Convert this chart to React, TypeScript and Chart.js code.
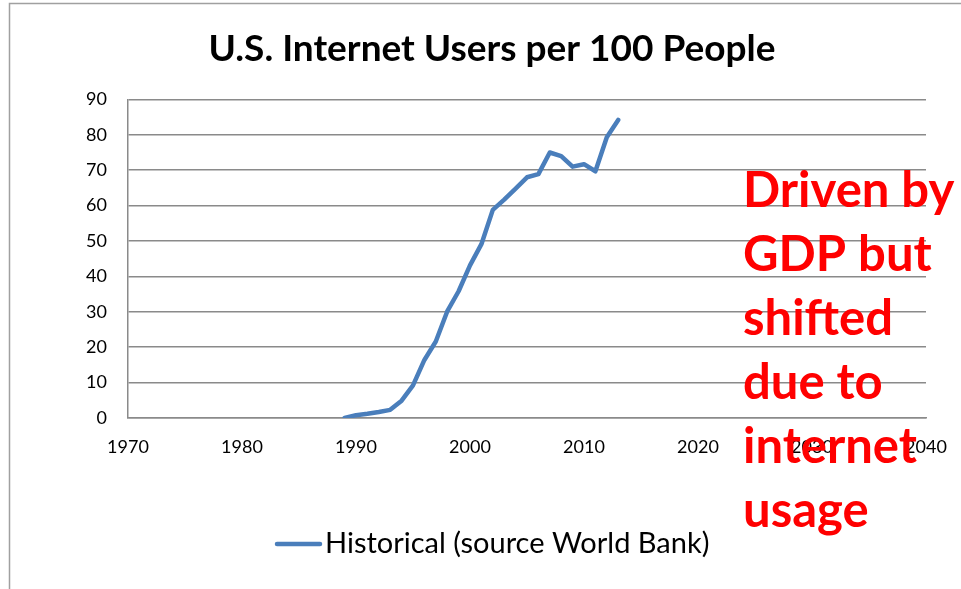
import React, { useEffect, useRef } from "react";
import { Chart, registerables } from "chart.js";

Chart.register(...registerables);

const years = [1989, 1990, 1991, 1992, 1993, 1994, 1995, 1996, 1997, 1998, 1999, 2000, 2001, 2002, 2003, 2004, 2005, 2006, 2007, 2008, 2009, 2010, 2011, 2012, 2013];
const usersPer100 = [0, 0.8, 1.2, 1.7, 2.3, 4.9, 9.2, 16.4, 21.6, 30.1, 35.8, 43.1, 49.1, 58.8, 61.7, 64.8, 68.0, 68.9, 75.0, 74.0, 71.0, 71.7, 69.7, 79.3, 84.2];
const xTicks = [1970, 1980, 1990, 2000, 2010, 2020, 2030, 2040];
const yTicks = [0, 10, 20, 30, 40, 50, 60, 70, 80, 90];
const titleText = "U.S. Internet Users per 100 People";
const seriesLabel = "Historical (source World Bank)";
const noteLines = ["Driven by", "GDP but", "shifted", "due to", "internet", "usage"];

const FONT = "Lato, 'Noto Sans', sans-serif";
const LINE_COLOR = "#4a7ebb";

const framePlugin = {
  id: "frame",
  beforeDraw(chart: any) {
    const ctx = chart.ctx;
    ctx.save();
    ctx.fillStyle = "#ffffff";
    ctx.fillRect(0, 0, chart.width, chart.height);
    ctx.strokeStyle = "#a0a0a0";
    ctx.lineWidth = 1.5;
    ctx.strokeRect(9.5, 3.5, 1200, 1200);
    ctx.restore();
  },
};

const legendPlugin = {
  id: "customLegend",
  afterDraw(chart: any) {
    const ctx = chart.ctx;
    const ds = chart.data.datasets[0];
    ctx.save();
    ctx.strokeStyle = ds.borderColor;
    ctx.lineWidth = 4.5;
    ctx.lineCap = "round";
    ctx.beginPath();
    ctx.moveTo(277, 544);
    ctx.lineTo(320, 544);
    ctx.stroke();
    ctx.fillStyle = "#000000";
    ctx.font = `29px ${FONT}`;
    ctx.textAlign = "left";
    ctx.textBaseline = "middle";
    ctx.fillText(ds.label, 325, 544);
    ctx.restore();
  },
};

const notePlugin = {
  id: "note",
  afterDraw(chart: any) {
    const ctx = chart.ctx;
    ctx.save();
    ctx.fillStyle = "#ff0000";
    ctx.font = `bold 49px ${FONT}`;
    ctx.textAlign = "left";
    ctx.textBaseline = "alphabetic";
    noteLines.forEach((line, i) => {
      ctx.fillText(line, 743, 207 + i * 64);
    });
    ctx.restore();
  },
};

export default function App() {
  const canvasRef = useRef<HTMLCanvasElement | null>(null);

  useEffect(() => {
    if (!canvasRef.current) return;
    const chart = new Chart(canvasRef.current, {
      type: "line",
      data: {
        datasets: [
          {
            label: seriesLabel,
            data: years.map((y, i) => ({ x: y, y: usersPer100[i] })),
            borderColor: LINE_COLOR,
            backgroundColor: LINE_COLOR,
            borderWidth: 4.5,
            pointRadius: 0,
            tension: 0,
            borderCapStyle: "round",
            borderJoinStyle: "round",
          },
        ],
      },
      options: {
        animation: false,
        responsive: true,
        maintainAspectRatio: false,
        layout: { padding: { left: 58, right: 35, top: 0, bottom: 70 } },
        plugins: {
          tooltip: { enabled: false },
          title: {
            display: true,
            text: titleText,
            color: "#000000",
            font: { family: FONT, size: 37, weight: "bold" },
            padding: { top: 27, bottom: 28 },
          },
          legend: { display: false },
        },
        scales: {
          x: {
            type: "linear",
            min: 1970,
            max: 2040,
            afterBuildTicks: (scale: any) => {
              scale.ticks = xTicks.map((v) => ({ value: v }));
            },
            afterFit: (scale: any) => {
              scale.height = 101;
              scale.paddingLeft = 0;
              scale.paddingRight = 0;
            },
            grid: { display: false, drawTicks: false },
            border: { display: true, color: "#8a8a8a", width: 1.5 },
            ticks: {
              color: "#000000",
              font: { family: FONT, size: 18 },
              padding: 18,
              maxRotation: 0,
              autoSkip: false,
              callback: (v: any) => String(v),
            },
          },
          y: {
            min: 0,
            max: 90,
            afterBuildTicks: (scale: any) => {
              scale.ticks = yTicks.map((v) => ({ value: v }));
            },
            afterFit: (scale: any) => {
              scale.width = 70;
            },
            grid: { display: true, color: "#8a8a8a", lineWidth: 1.5, drawTicks: false },
            border: { display: true, color: "#8a8a8a", width: 1.5 },
            ticks: {
              color: "#000000",
              font: { family: FONT, size: 18 },
              padding: 21,
              callback: (v: any) => String(v),
            },
          },
        },
      },
      plugins: [framePlugin, legendPlugin, notePlugin],
    });
    return () => chart.destroy();
  }, []);

  return (
    <div style={{ position: "absolute", left: 0, top: 0, width: 961, height: 589 }}>
      <canvas ref={canvasRef} />
    </div>
  );
}
